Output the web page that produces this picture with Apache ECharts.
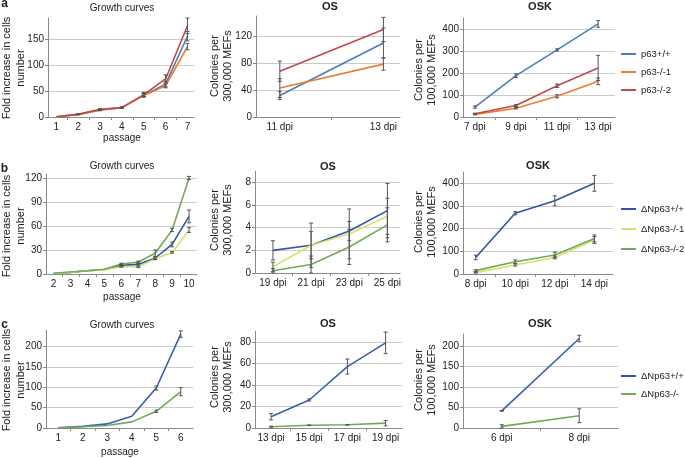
<!DOCTYPE html>
<html><head><meta charset="utf-8">
<script src="https://cdn.jsdelivr.net/npm/echarts@6/dist/echarts.min.js"></script>
<style>html,body{margin:0;padding:0;background:#fff}#c{width:685px;height:458px}</style>
</head><body><div id="c"></div>
<script>
// ---------- categories ----------
const catsA1 = ['1','2','3','4','5','6','7'];
const catsA2 = ['11 dpi','13 dpi'];
const catsA3 = ['7 dpi','9 dpi','11 dpi','13 dpi'];
const catsB1 = ['2','3','4','5','6','7','8','9','10'];
const catsB2 = ['19 dpi','21 dpi','23 dpi','25 dpi'];
const catsB3 = ['8 dpi','10 dpi','12 dpi','14 dpi'];
const catsC1 = ['1','2','3','4','5','6'];
const catsC2 = ['13 dpi','15 dpi','17 dpi','19 dpi'];
const catsC3 = ['6 dpi','8 dpi'];

// ---------- series names ----------
const namesA = ['p63+/+','p63-/-1','p63-/-2'];
const namesB = ['ΔNp63+/+','ΔNp63-/-1','ΔNp63-/-2'];
const namesC = ['ΔNp63+/+','ΔNp63-/-'];

// ---------- row a values ----------
const a1Wt  = [0.5, 5, 13, 18, 42, 63, 155];
const a1Ko1 = [0.5, 5, 14, 18, 41, 60, 135];
const a1Ko2 = [0.5, 5, 15, 18, 43, 73, 175];
const a1WtErr  = [0, 0.5, 1, 1, 3, 5, 9];
const a1Ko1Err = [0, 0.5, 1, 1, 3, 4, 6];
const a1Ko2Err = [0, 0.5, 1, 1, 4, 8, 15];

const a2Wt  = [32, 110];
const a2Ko1 = [43, 78.5];
const a2Ko2 = [68, 130];
const a2WtErr  = [6, 22];
const a2Ko1Err = [14, 9];
const a2Ko2Err = [15, 18];

const a3Wt  = [45, 188, 305, 423];
const a3Ko1 = [12, 40, 94, 162];
const a3Ko2 = [15, 52, 142, 223];
const a3WtErr  = [5, 8, 5, 15];
const a3Ko1Err = [2, 3, 7, 15];
const a3Ko2Err = [2, 4, 8, 57];

// ---------- row b values ----------
const b1Wt  = [0.5, 2, 4, 5.5, 11, 12, 20, 37, 72];
const b1Ko1 = [0.5, 2, 4, 5, 9, 9, 19, 27, 55];
const b1Ko2 = [1, 2.5, 4, 6, 12.5, 15, 26, 55, 120];
const b1WtErr  = [0, 0, 0, 0, 1, 1, 2, 3, 8];
const b1Ko1Err = [0, 0, 0, 0, 0.5, 1, 1, 1, 3];
const b1Ko2Err = [0, 0, 0, 0, 1, 1, 4, 2, 2];

const b2Wt  = [2.0, 2.45, 3.7, 5.5];
const b2Ko1 = [0.55, 2.45, 3.45, 5.0];
const b2Ko2 = [0.2, 0.75, 2.3, 4.25];
const b2WtErr  = [0.85, 1.2, 0.85, 2.4];
const b2Ko1Err = [0.4, 1.95, 2.2, 1.6];
const b2Ko2Err = [0.2, 0.75, 1.55, 1.5];

const b3Wt  = [73, 268, 323, 400];
const b3Ko1 = [6, 40, 73, 150];
const b3Ko2 = [15, 54, 84, 157];
const b3WtErr  = [10, 7, 22, 35];
const b3Ko1Err = [2, 5, 6, 15];
const b3Ko2Err = [4, 8, 12, 15];

// ---------- row c values ----------
const c1Wt = [0.5, 4, 10, 29, 98, 230];
const c1Ko = [0.5, 3, 6, 15, 41, 89];
const c1WtErr = [0, 0, 0, 0, 5, 8];
const c1KoErr = [0, 0, 0, 0, 3, 10];

const c2Wt = [10.5, 26, 57, 79];
const c2Ko = [1.2, 2.5, 3, 4.5];
const c2WtErr = [3, 1, 7, 10];
const c2KoErr = [0.5, 0.3, 0.3, 2.5];

const c3Wt = [42, 219];
const c3Ko = [4, 30];
const c3WtErr = [1, 8];
const c3KoErr = [4, 17];

// ---------- styling ----------
const FONT = "'Liberation Sans', Arial, Helvetica, sans-serif";
const colA = ['#4a7ebb', '#ec7c30', '#be4b48'];
const colB = ['#2f55a4', '#d7e26b', '#74a95a'];
const colC = ['#3560b0', '#6fab55'];
const AXIS = '#8a8a8a', GRIDC = '#cbcbcb', ERR = '#555555', TXT = '#222';

function ser(names, cols, datas, errs) {
  return names.map((n, k) => ({ name: n, color: cols[k], data: datas[k], err: errs[k] }));
}

const panels = [
  { grid: {left:48, top:18, width:146, height:99}, cats: catsA1, padL:0.38, padR:0.3, yMax:190, yInt:50,
    series: ser(namesA, colA, [a1Wt, a1Ko1, a1Ko2], [a1WtErr, a1Ko1Err, a1Ko2Err]) },
  { grid: {left:256, top:16, width:144, height:101}, cats: catsA2, padL:0.23, padR:0.16, yMax:150, yInt:40,
    series: ser(namesA, colA, [a2Wt, a2Ko1, a2Ko2], [a2WtErr, a2Ko1Err, a2Ko2Err]) },
  { grid: {left:463, top:18, width:152, height:99}, cats: catsA3, padL:0.29, padR:0.41, yMax:450, yInt:100,
    series: ser(namesA, colA, [a3Wt, a3Ko1, a3Ko2], [a3WtErr, a3Ko1Err, a3Ko2Err]) },
  { grid: {left:46, top:174, width:151, height:100}, cats: catsB1, padL:0.45, padR:0.47, yMax:125, yInt:30,
    series: ser(namesB, colB, [b1Wt, b1Ko1, b1Ko2], [b1WtErr, b1Ko1Err, b1Ko2Err]) },
  { grid: {left:255, top:171, width:145, height:102}, cats: catsB2, padL:0.47, padR:0.33, yMax:9, yInt:2,
    series: ser(namesB, colB, [b2Wt, b2Ko1, b2Ko2], [b2WtErr, b2Ko1Err, b2Ko2Err]) },
  { grid: {left:463, top:172, width:150, height:102}, cats: catsB3, padL:0.32, padR:0.47, yMax:450, yInt:100,
    series: ser(namesB, colB, [b3Wt, b3Ko1, b3Ko2], [b3WtErr, b3Ko1Err, b3Ko2Err]) },
  { grid: {left:46, top:330, width:147, height:98}, cats: catsC1, padL:0.5, padR:0.5, yMax:240, yInt:50,
    series: ser(namesC, colC, [c1Wt, c1Ko], [c1WtErr, c1KoErr]) },
  { grid: {left:255, top:331, width:147, height:97}, cats: catsC2, padL:0.42, padR:0.43, yMax:90, yInt:20,
    series: ser(namesC, colC, [c2Wt, c2Ko], [c2WtErr, c2KoErr]) },
  { grid: {left:463, top:334, width:155, height:94}, cats: catsC3, padL:0.5, padR:0.5, yMax:230, yInt:50,
    series: ser(namesC, colC, [c3Wt, c3Ko], [c3WtErr, c3KoErr]) }
];

const grids = [], xAxes = [], yAxes = [], series = [];
panels.forEach((p, gi) => {
  grids.push(Object.assign({ containLabel: false }, p.grid));
  const ticks = p.cats.slice(1).map((c, k) => k + 0.5);
  xAxes.push({
    gridIndex: gi, type: 'value', min: -p.padL, max: p.cats.length - 1 + p.padR,
    axisLine: { show: true, onZero: false, lineStyle: { color: AXIS, width: 1 } },
    axisTick: { show: true, customValues: ticks, length: 3, lineStyle: { color: AXIS } },
    axisLabel: { customValues: p.cats.map((c, k) => k), formatter: v => p.cats[Math.round(v)],
                 fontSize: 10, color: TXT, fontFamily: FONT, margin: 5 },
    splitLine: { show: false }
  });
  yAxes.push({
    gridIndex: gi, type: 'value', min: 0, max: p.yMax, interval: p.yInt,
    axisLine: { show: true, onZero: false, lineStyle: { color: AXIS, width: 1 } },
    axisTick: { show: true, length: 3, lineStyle: { color: AXIS } },
    axisLabel: { fontSize: 10, color: TXT, fontFamily: FONT, margin: 4, showMaxLabel: false },
    splitLine: { show: true, showMaxLine: false, showMinLine: false, lineStyle: { color: GRIDC, width: 1 } }
  });
  p.series.forEach(s => {
    series.push({
      type: 'line', name: s.name, xAxisIndex: gi, yAxisIndex: gi,
      data: s.data.map((v, k) => [k, v]), symbol: 'none', showSymbol: false,
      lineStyle: { color: s.color, width: 1.6 }, itemStyle: { color: s.color },
      z: 2, silent: true
    });
    const ed = [];
    s.data.forEach((v, k) => { if (s.err[k] > 0) ed.push([k, Math.max(0, v - s.err[k]), v + s.err[k]]); });
    series.push({
      type: 'custom', name: 'err-' + gi + '-' + s.name, xAxisIndex: gi, yAxisIndex: gi,
      data: ed, silent: true, z: 3, clip: false,
      renderItem: (params, api) => {
        const x = api.value(0);
        const lo = api.coord([x, api.value(1)]);
        const hi = api.coord([x, api.value(2)]);
        const hw = 2, st = { stroke: ERR, lineWidth: 1 };
        return { type: 'group', children: [
          { type: 'line', shape: { x1: lo[0], y1: lo[1], x2: hi[0], y2: hi[1] }, style: st },
          { type: 'line', shape: { x1: lo[0] - hw, y1: lo[1], x2: lo[0] + hw, y2: lo[1] }, style: st },
          { type: 'line', shape: { x1: hi[0] - hw, y1: hi[1], x2: hi[0] + hw, y2: hi[1] }, style: st }
        ]};
      }
    });
  });
});

function legendFor(names, top, gap) {
  return {
    data: names, left: 621, top: top, orient: 'vertical', icon: 'rect',
    itemWidth: 15, itemHeight: 2, itemGap: gap, padding: 0, selectedMode: false,
    textStyle: { fontSize: 9.5, color: TXT, fontFamily: FONT }
  };
}

function txt(t, x, y, font, rot, lh) {
  return { type: 'text', x: x, y: y, rotation: rot || 0, silent: true,
    style: { text: t, font: font, fill: TXT, align: 'center', verticalAlign: 'middle', lineHeight: lh || 13 } };
}
const fLetter = "bold 12px " + FONT, fTitle = "10px " + FONT, fBold = "bold 11px " + FONT, fName = "11px " + FONT, fX = "10px " + FONT;
const R = Math.PI / 2;
const graphics = [
  txt('a', 4.5, 4, fLetter), txt('b', 4.5, 169, fLetter), txt('c', 4.5, 325, fLetter),
  txt('Growth curves', 122, 8, fTitle), txt('OS', 330, 7, fBold), txt('OSK', 540, 7, fBold),
  txt('Growth curves', 122, 166, fTitle), txt('OS', 328, 167, fBold), txt('OSK', 538, 166, fBold),
  txt('Growth curves', 122, 325, fTitle), txt('OS', 328, 324, fBold), txt('OSK', 540, 324, fBold),
  txt('passage', 122, 138, fX), txt('passage', 122, 297, fX), txt('passage', 120, 452, fX),
  txt('Fold increase in cells\nnumber', 14, 68, fName, R, 14),
  txt('Colonies per\n300,000 MEFs', 221, 66, fName, R, 13),
  txt('Colonies per\n100,000 MEFs', 425, 70, fName, R, 13),
  txt('Fold increase in cells\nnumber', 14, 226, fName, R, 14),
  txt('Colonies per\n300,000 MEFs', 221, 220, fName, R, 13),
  txt('Colonies per\n100,000 MEFs', 425, 222, fName, R, 13),
  txt('Fold increase in cells\nnumber', 14, 380, fName, R, 14),
  txt('Colonies per\n300,000 MEFs', 221, 377, fName, R, 13),
  txt('Colonies per\n100,000 MEFs', 425, 380, fName, R, 13)
];

const chart = echarts.init(document.getElementById('c'), null, { renderer: 'canvas' });
chart.setOption({
  animation: false,
  backgroundColor: '#fff',
  textStyle: { fontFamily: FONT },
  grid: grids, xAxis: xAxes, yAxis: yAxes, series: series,
  legend: [legendFor(namesA, 49, 8), legendFor(namesB, 204, 10), legendFor(namesC, 371, 8)],
  graphic: graphics
});
</script></body></html>
